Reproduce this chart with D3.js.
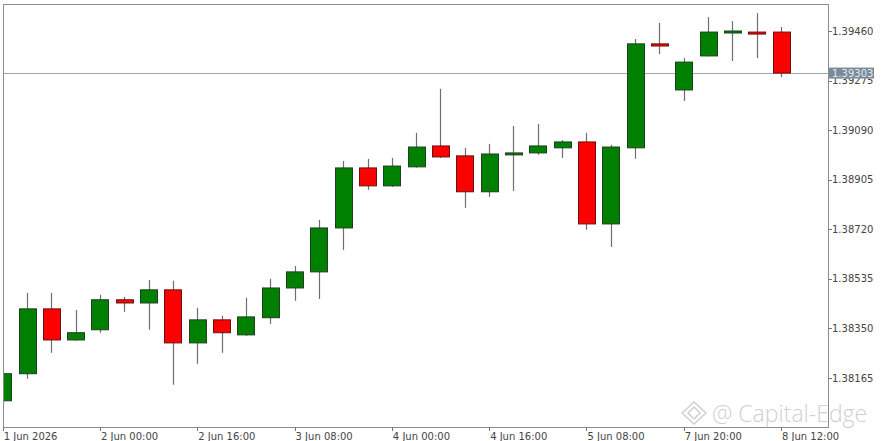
<!DOCTYPE html>
<meta charset="utf-8">
<style>
body { margin: 0; background: #fff; }
svg { display: block; font-family: "DejaVu Sans", Tahoma, sans-serif; }
.lbl { font-size: 10px; fill: #444; }
</style>
<body>
<svg id="chart" width="886" height="441"></svg>
<script src="https://cdn.jsdelivr.net/npm/d3@7/dist/d3.min.js"></script>
<script>
// H4 candles, 1 Jun 08:00 -> 8 Jun 12:00
var times = ["01 08:00","01 12:00","01 16:00","01 20:00","02 00:00","02 04:00","02 08:00","02 12:00",
  "02 16:00","02 20:00","03 00:00","03 04:00","03 08:00","03 12:00","03 16:00","03 20:00",
  "04 00:00","04 04:00","04 08:00","04 12:00","04 16:00","04 20:00","05 00:00","05 04:00",
  "05 08:00","05 12:00","05 16:00","05 20:00","07 20:00","08 00:00","08 04:00","08 08:00","08 12:00"];
var opens  = [1.38080,1.38181,1.38423,1.38307,1.38345,1.38457,1.38445,1.38494,1.38296,1.38382,1.38326,1.38390,1.38501,1.38561,1.38725,1.38949,
              1.38882,1.38953,1.39031,1.38994,1.38860,1.39003,1.39005,1.39024,1.39046,1.38740,1.39024,1.39412,1.39240,1.39367,1.39455,1.39456,1.39456];
var highs  = [1.38188,1.38483,1.38483,1.38419,1.38475,1.38468,1.38531,1.38528,1.38427,1.38397,1.38464,1.38535,1.38583,1.38755,1.38975,1.38983,
              1.38986,1.39080,1.39244,1.39024,1.39039,1.39106,1.39113,1.39053,1.39080,1.39035,1.39430,1.39490,1.39359,1.39512,1.39497,1.39527,1.39475];
var lows   = [1.38065,1.38162,1.38259,1.38304,1.38334,1.38412,1.38345,1.38140,1.38218,1.38259,1.38322,1.38367,1.38453,1.38460,1.38643,1.38867,
              1.38878,1.38950,1.38986,1.38800,1.38841,1.38863,1.38998,1.38986,1.38718,1.38654,1.38983,1.39374,1.39199,1.39365,1.39348,1.39359,1.39288];
var closes = [1.38181,1.38423,1.38307,1.38334,1.38457,1.38445,1.38494,1.38296,1.38382,1.38334,1.38393,1.38501,1.38561,1.38725,1.38949,1.38882,
              1.38956,1.39027,1.38990,1.38860,1.39001,1.39005,1.39031,1.39046,1.38740,1.39027,1.39412,1.39404,1.39344,1.39456,1.39460,1.39453,1.39303];
var yTicks = [1.38165,1.38350,1.38535,1.38720,1.38905,1.39090,1.39275,1.39460];
var xTickTimes  = ["01 08:00","02 00:00","02 16:00","03 08:00","04 00:00","04 16:00","05 08:00","07 20:00","08 12:00"];
var xTickLabels = ["1 Jun 2026","2 Jun 00:00","2 Jun 16:00","3 Jun 08:00","4 Jun 00:00","4 Jun 16:00","5 Jun 08:00","7 Jun 20:00","8 Jun 12:00"];
var lastPrice = 1.39303;

var svg = d3.select("#chart");
var pLeft = 3, pRight = 828, pTop = 4, pBottom = 427;

var x = d3.scalePoint().domain(times).range([2.7, 781]);
var y = d3.scaleLinear().domain([yTicks[0], yTicks[yTicks.length - 1]]).range([378, 31]);
var bw = 17;

var candles = times.map(function(t, i) {
  return {t: t, o: opens[i], h: highs[i], l: lows[i], c: closes[i]};
});

svg.append("defs").append("clipPath").attr("id", "plot")
  .append("rect").attr("x", pLeft).attr("y", pTop).attr("width", pRight - pLeft).attr("height", pBottom - pTop);

var plot = svg.append("g").attr("clip-path", "url(#plot)");

// current price line
plot.append("line")
  .attr("x1", pLeft).attr("x2", pRight)
  .attr("y1", Math.round(y(lastPrice)) + 0.5).attr("y2", Math.round(y(lastPrice)) + 0.5)
  .attr("stroke", "#9aa9b8").attr("stroke-width", 1);

var g = plot.selectAll("g.candle").data(candles).enter().append("g").attr("class", "candle");

g.append("line")
  .attr("x1", function(d) { return Math.round(x(d.t)) + 0.5; })
  .attr("x2", function(d) { return Math.round(x(d.t)) + 0.5; })
  .attr("y1", function(d) { return y(d.h); })
  .attr("y2", function(d) { return y(d.l); })
  .attr("stroke", "#6e6e6e").attr("stroke-width", 1.2);

g.append("rect")
  .attr("x", function(d) { return Math.round(x(d.t) - bw / 2) + 0.5; })
  .attr("y", function(d) { return y(Math.max(d.o, d.c)); })
  .attr("width", bw)
  .attr("height", function(d) { return Math.max(2, Math.abs(y(d.o) - y(d.c))); })
  .attr("fill", function(d) { return d.c >= d.o ? "#008000" : "#ff0000"; })
  .attr("stroke", function(d) { return d.c >= d.o ? "#1f3f1f" : "#6b1010"; })
  .attr("stroke-width", 1);

// frame
svg.append("rect")
  .attr("x", pLeft + 0.5).attr("y", pTop + 0.5)
  .attr("width", pRight - pLeft).attr("height", pBottom - pTop)
  .attr("fill", "none").attr("stroke", "#8c8c8c");

// right price axis
var ya = svg.append("g");
ya.selectAll("line").data(yTicks).enter().append("line")
  .attr("x1", pRight).attr("x2", pRight + 4)
  .attr("y1", function(d) { return Math.round(y(d)) + 0.5; })
  .attr("y2", function(d) { return Math.round(y(d)) + 0.5; })
  .attr("stroke", "#777");
ya.selectAll("text").data(yTicks).enter().append("text")
  .attr("class", "lbl")
  .attr("x", pRight + 4).attr("y", function(d) { return y(d); })
  .attr("dy", "0.35em")
  .text(function(d) { return d.toFixed(5); });

// last price tag
var ly = y(lastPrice);
svg.append("rect").attr("x", pRight + 1).attr("y", ly - 5.5).attr("width", 45).attr("height", 11)
  .attr("fill", "#7b8a9a");
svg.append("text").attr("class", "lbl").attr("x", pRight + 4).attr("y", ly).attr("dy", "0.35em")
  .style("fill", "#e3e9ef").text(lastPrice.toFixed(5));

// time axis
var xa = svg.append("g");
xa.selectAll("line").data(xTickTimes).enter().append("line")
  .attr("x1", function(d) { return Math.round(x(d)) + 0.5; })
  .attr("x2", function(d) { return Math.round(x(d)) + 0.5; })
  .attr("y1", pBottom).attr("y2", pBottom + 4)
  .attr("stroke", "#777");
xa.selectAll("text").data(xTickTimes).enter().append("text")
  .attr("class", "lbl")
  .attr("x", function(d) { return x(d) + 1; })
  .attr("y", 440)
  .text(function(d, i) { return xTickLabels[i]; });

// watermark
var wm = svg.append("g").attr("opacity", 0.55);
wm.append("path")
  .attr("d", "M694,402 L706,413 L694,424 L682,413 Z M694,407 L700,413 L694,419 L688,413 Z")
  .attr("fill", "none").attr("stroke", "#aaa").attr("stroke-width", 1.5);
wm.append("text")
  .attr("x", 712).attr("y", 422)
  .attr("font-family", "'Open Sans', 'DejaVu Sans', sans-serif")
  .attr("font-size", 23).attr("font-weight", 300)
  .attr("fill", "#aaa")
  .text("@ Capital-Edge");
</script>
</body>
